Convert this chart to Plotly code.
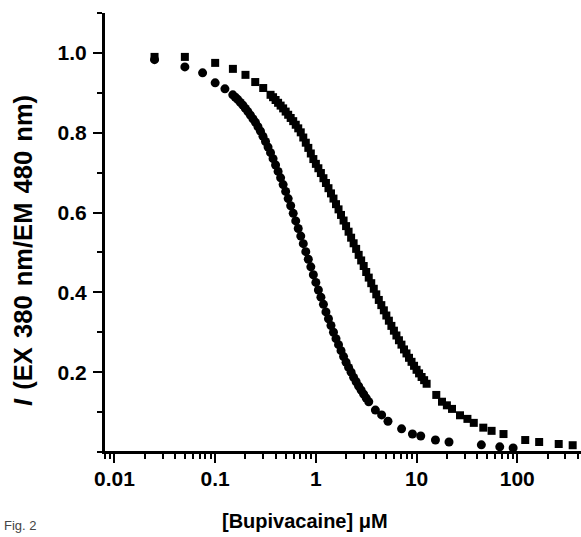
import plotly.graph_objects as go

# ---- data ----
circle_conc = [0.025, 0.05, 0.075, 0.1, 0.125,
               0.1496, 0.1585, 0.1679, 0.1778, 0.1884, 0.1995, 0.2113, 0.2239, 0.2371, 0.2512,
               0.2661, 0.2818, 0.2985, 0.3162, 0.3350, 0.3548, 0.3758, 0.3981, 0.4217, 0.4467,
               0.4732, 0.5012, 0.5309, 0.5623, 0.5957, 0.6310, 0.6683, 0.7079, 0.7499, 0.7943,
               0.8414, 0.8913, 0.9441, 1.0, 1.059, 1.122, 1.189, 1.259, 1.334, 1.413,
               1.496, 1.585, 1.679, 1.778, 1.884, 1.995, 2.113, 2.239, 2.371, 2.512,
               2.661, 2.818, 2.985, 3.162, 3.350,
               3.9, 4.5, 5.2, 7.1, 9.1, 11.0, 15.4, 21.0, 44.0, 67.0, 91.0]
circle_ratio = [0.983, 0.965, 0.950, 0.925, 0.910,
                0.895, 0.889, 0.883, 0.876, 0.869, 0.861, 0.853, 0.844, 0.835, 0.826,
                0.815, 0.804, 0.791, 0.778, 0.764, 0.750, 0.735, 0.719, 0.703, 0.687,
                0.670, 0.653, 0.635, 0.617, 0.598, 0.579, 0.560, 0.541, 0.522, 0.502,
                0.483, 0.464, 0.444, 0.425, 0.406, 0.388, 0.370, 0.351, 0.334, 0.317,
                0.300, 0.284, 0.269, 0.254, 0.239, 0.225, 0.212, 0.200, 0.187, 0.176,
                0.165, 0.155, 0.145, 0.135, 0.126,
                0.105, 0.093, 0.077, 0.058, 0.045, 0.040, 0.030, 0.025, 0.018, 0.013, 0.010]

square_conc = [0.025, 0.05, 0.1, 0.15, 0.2, 0.25, 0.3,
               0.3548, 0.3758, 0.3981, 0.4217, 0.4467, 0.4732, 0.5012, 0.5309, 0.5623, 0.5957,
               0.6310, 0.6683, 0.7079, 0.7499, 0.7943, 0.8414, 0.8913, 0.9441, 1.0, 1.059,
               1.122, 1.189, 1.259, 1.334, 1.413, 1.496, 1.585, 1.679, 1.778, 1.884,
               1.995, 2.113, 2.239, 2.371, 2.512, 2.661, 2.818, 2.985, 3.162, 3.350,
               3.548, 3.758, 3.981, 4.217, 4.467, 4.732, 5.012, 5.309, 5.623, 5.957,
               6.310, 6.683, 7.079, 7.499, 7.943, 8.414, 8.913, 9.441, 10.0, 10.59,
               11.22, 11.89, 12.59,
               15.7, 17.9, 20.0, 22.5, 27.0, 32.0, 37.0, 46.0, 55.6, 73.0, 120.0, 165.0, 258.0, 355.0]
square_ratio = [0.990, 0.990, 0.975, 0.960, 0.945, 0.927, 0.912,
                0.895, 0.889, 0.882, 0.875, 0.868, 0.861, 0.853, 0.845, 0.837, 0.829,
                0.820, 0.811, 0.801, 0.788, 0.775, 0.762, 0.748, 0.734, 0.722, 0.711,
                0.699, 0.686, 0.674, 0.661, 0.648, 0.635, 0.621, 0.608, 0.594, 0.580,
                0.566, 0.552, 0.537, 0.523, 0.509, 0.494, 0.480, 0.466, 0.451, 0.437,
                0.423, 0.409, 0.395, 0.381, 0.368, 0.355, 0.342, 0.329, 0.316, 0.304,
                0.292, 0.280, 0.269, 0.257, 0.247, 0.236, 0.226, 0.216, 0.206, 0.197,
                0.188, 0.180, 0.171,
                0.143, 0.126, 0.117, 0.108, 0.092, 0.083, 0.073, 0.061, 0.053, 0.045, 0.030, 0.025, 0.020, 0.017]

x_tick_vals = [0.01, 0.1, 1, 10, 100]
x_tick_text = ["0.01", "0.1", "1", "10", "100"]
y_tick_vals = [0.2, 0.4, 0.6, 0.8, 1.0]
y_tick_text = ["0.2", "0.4", "0.6", "0.8", "1.0"]

FONT = "Liberation Sans, Arial, sans-serif"
W, H = 581, 537
ML, MT, MB = 104, 13, 85
PLOT_H = H - MT - MB  # pixel height of the plotting area

fig = go.Figure()
fig.add_trace(go.Scatter(x=square_conc, y=square_ratio, mode="markers",
                         marker=dict(symbol="square", size=8, color="black"),
                         showlegend=False, cliponaxis=False))
fig.add_trace(go.Scatter(x=circle_conc, y=circle_ratio, mode="markers",
                         marker=dict(symbol="circle", size=9, color="black"),
                         showlegend=False, cliponaxis=False))

fig.update_layout(
    width=W, height=H,
    margin=dict(l=ML, r=0, t=MT, b=MB, autoexpand=False),
    paper_bgcolor="white", plot_bgcolor="white",
    font=dict(family=FONT, color="black"),
    xaxis=dict(type="log", range=[-2.104, 2.633], automargin=False,
               tickvals=x_tick_vals, ticktext=x_tick_text,
               showline=True, linecolor="black", linewidth=2, mirror=False,
               ticks="outside", ticklen=9, tickwidth=2, tickcolor="black",
               ticklabelstandoff=-2,
               minor=dict(ticks="outside", ticklen=5, tickwidth=1.5, tickcolor="black",
                          dtick="D1", showgrid=False),
               showgrid=False, zeroline=False,
               tickfont=dict(family=FONT, size=21, color="black", weight="bold")),
    yaxis=dict(range=[0, 1.1], automargin=False,
               tickvals=y_tick_vals, ticktext=y_tick_text,
               showline=True, linecolor="black", linewidth=2, mirror=False,
               ticks="outside", ticklen=9, tickwidth=2, tickcolor="black",
               ticklabelstandoff=2,
               minor=dict(ticks="outside", ticklen=5, tickwidth=1.5, tickcolor="black",
                          dtick=0.1, tick0=0.1, showgrid=False),
               showgrid=False, zeroline=False,
               tickfont=dict(family=FONT, size=21, color="black", weight="bold")),
)

# explicit axis lines along the left and bottom edges of the plotting area
fig.add_shape(type="line", xref="paper", yref="paper", x0=0, x1=0, y0=0, y1=1,
              line=dict(color="black", width=2))
fig.add_shape(type="line", xref="paper", yref="paper", x0=0, x1=1, y0=0, y1=0,
              line=dict(color="black", width=2))

SP = " \u200a"
fig.add_annotation(text="<b>[Bupivacaine] \u03bcM</b>", xref="paper", yref="paper",
                   x=(305 - ML) / (W - ML), y=-(521 - (H - MB)) / PLOT_H,
                   xanchor="center", yanchor="middle", showarrow=False,
                   font=dict(family=FONT, size=20, color="black"))
fig.add_annotation(text=f"<b><i>I</i>{SP}(EX{SP}380{SP}nm/EM{SP}480{SP}nm)</b>",
                   xref="paper", yref="paper",
                   x=-(ML - 23) / (W - ML), y=((H - MB) - 251) / PLOT_H,
                   xanchor="center", yanchor="middle", textangle=-90, showarrow=False,
                   font=dict(family=FONT, size=25.5, color="black"))
fig.add_annotation(text="Fig. 2", xref="paper", yref="paper",
                   x=-(ML - 2) / (W - ML), y=-(535 - (H - MB)) / PLOT_H,
                   xanchor="left", yanchor="bottom", showarrow=False,
                   font=dict(family=FONT, size=13, color="#444444"))

fig.write_html("out.html", config={"displayModeBar": False},
               post_script="document.body.style.margin='0px';")
